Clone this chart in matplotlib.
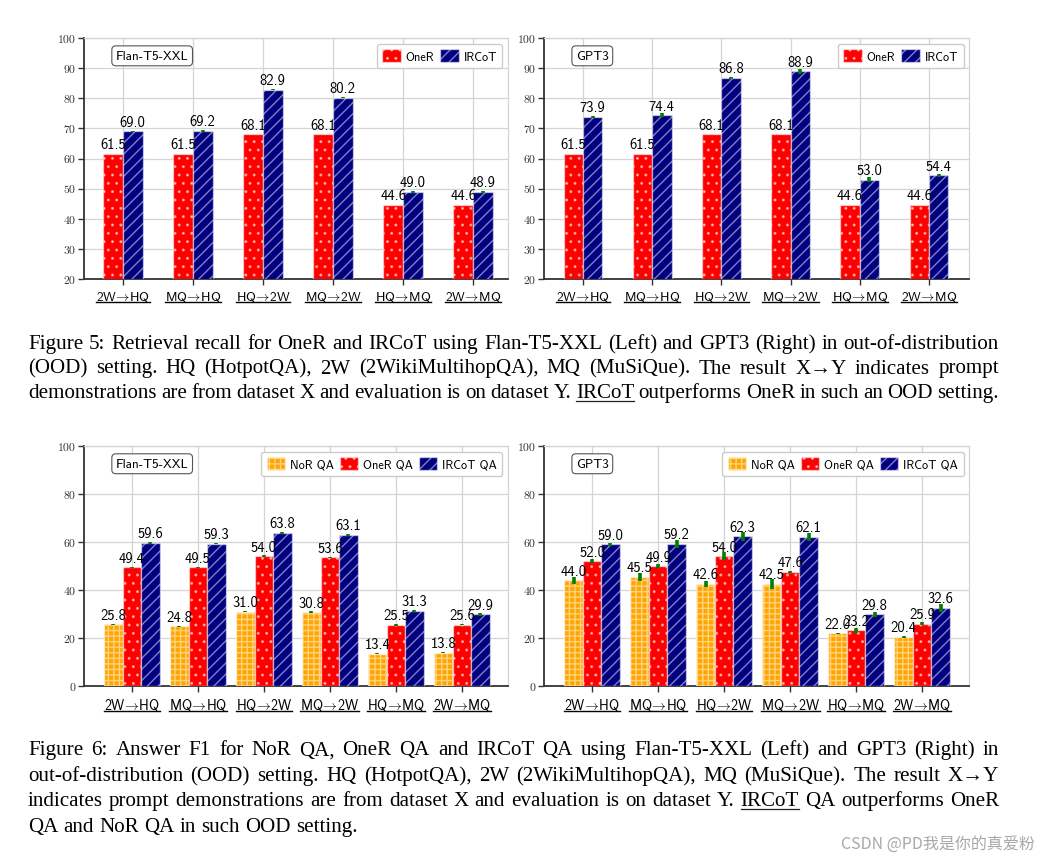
import matplotlib

matplotlib.use("Agg")
import matplotlib.pyplot as plt  # noqa: E402
import numpy as np  # noqa: E402
from matplotlib.lines import Line2D  # noqa: E402
from matplotlib.transforms import IdentityTransform  # noqa: E402

plt.rcParams["mathtext.fontset"] = "cm"
plt.rcParams["axes.unicode_minus"] = False
plt.rcParams["hatch.linewidth"] = 1.0

SANS = ["cmss10", "DejaVu Sans"]
ROMAN = ["cmr10", "DejaVu Serif"]
TIMES = ["Liberation Serif", "DejaVu Serif"]
CJK = ["Noto Sans CJK SC", "DejaVu Sans"]

W, H = 1051, 862

# ---- data -------------------------------------------------------------
PAIRS = [r"2W$\!\rightarrow\!$HQ", r"MQ$\!\rightarrow\!$HQ", r"HQ$\!\rightarrow\!$2W",
         r"MQ$\!\rightarrow\!$2W", r"HQ$\!\rightarrow\!$MQ", r"2W$\!\rightarrow\!$MQ"]

# Figure 5: retrieval recall
recall_oner_flan = [61.5, 61.5, 68.1, 68.1, 44.6, 44.6]
recall_ircot_flan = [69.0, 69.2, 82.9, 80.2, 49.0, 48.9]
recall_ircot_flan_err = [0.2, 0.3, 0.3, 0.2, 0.3, 0.2]

recall_oner_gpt3 = [61.5, 61.5, 68.1, 68.1, 44.6, 44.6]
recall_ircot_gpt3 = [73.9, 74.4, 86.8, 88.9, 53.0, 54.4]
recall_ircot_gpt3_err = [0.3, 0.6, 0.4, 0.8, 0.9, 0.4]

# Figure 6: answer F1
f1_nor_flan = [25.8, 24.8, 31.0, 30.8, 13.4, 13.8]
f1_oner_flan = [49.4, 49.5, 54.0, 53.6, 25.5, 25.6]
f1_ircot_flan = [59.6, 59.3, 63.8, 63.1, 31.3, 29.9]
f1_nor_flan_err = [0.2, 0.4, 0.2, 0.4, 0.2, 0.2]
f1_oner_flan_err = [0.2, 0.2, 0.4, 0.3, 0.3, 0.3]
f1_ircot_flan_err = [0.3, 0.2, 0.4, 0.4, 0.5, 0.6]

f1_nor_gpt3 = [44.0, 45.5, 42.6, 42.5, 22.0, 20.4]
f1_oner_gpt3 = [52.0, 49.9, 54.0, 47.6, 23.2, 25.9]
f1_ircot_gpt3 = [59.0, 59.2, 62.3, 62.1, 29.8, 32.6]
f1_nor_gpt3_err = [1.4, 1.7, 1.25, 2.2, 0.2, 0.5]
f1_oner_gpt3_err = [0.8, 0.9, 1.7, 0.4, 1.1, 0.6]
f1_ircot_gpt3_err = [0.7, 1.7, 2.0, 1.7, 0.9, 1.7]

CAPTION5 = [
    "Figure 5: Retrieval recall for OneR and IRCoT using Flan-T5-XXL (Left) and GPT3 (Right) in out-of-distribution",
    "(OOD) setting. HQ (HotpotQA), 2W (2WikiMultihopQA), MQ (MuSiQue). The result X\u2192Y indicates prompt",
    "demonstrations are from dataset X and evaluation is on dataset Y. IRCoT outperforms OneR in such an OOD setting.",
]
CAPTION6 = [
    "Figure 6:  Answer F1 for NoR QA, OneR QA and IRCoT QA using Flan-T5-XXL (Left) and GPT3 (Right) in",
    "out-of-distribution (OOD) setting. HQ (HotpotQA), 2W (2WikiMultihopQA), MQ (MuSiQue). The result X\u2192Y",
    "indicates prompt demonstrations are from dataset X and evaluation is on dataset Y. IRCoT QA outperforms OneR",
    "QA and NoR QA in such OOD setting.",
]
WATERMARK = "CSDN @PD\u6211\u662f\u4f60\u7684\u771f\u7231\u7c89"

# series styles
STYLE = {
    "NoR": {"color": "#FFA500", "hatch": "+++"},
    "OneR": {"color": "#FF0000", "hatch": ".."},
    "IRCoT": {"color": "#000080", "hatch": "///"},
}
EDGE = (1, 1, 1, 0.5)


def px_axes(fig, left, top, right, bottom):
    return fig.add_axes([left / W, 1 - bottom / H, (right - left) / W, (bottom - top) / H])


def draw_panel(ax, series, title, xlim, ylim, yticks, tick_size):
    x = np.arange(len(PAIRS))
    n = len(series)
    width = 0.28
    for i, (key, label, vals, err) in enumerate(series):
        pos = x + (i - (n - 1) / 2) * width
        st = STYLE[key]
        ax.bar(pos, vals, width, color=st["color"], hatch=st["hatch"],
               edgecolor=EDGE, linewidth=1.0, label=label, zorder=3)
        if err is not None:
            ax.errorbar(pos, vals, yerr=err, fmt="none", ecolor="#008000",
                        elinewidth=2.6, capsize=0, zorder=4)
        for p, v in zip(pos, vals):
            ax.annotate(f"{v:.1f}", (p, v), xytext=(0, 4), textcoords="offset points",
                        ha="center", va="baseline", fontsize=10.5, family=SANS, zorder=6)

    ax.set_xlim(*xlim)
    ax.set_ylim(*ylim)
    ax.set_yticks(yticks)
    ax.set_xticks(x)
    ax.set_xticklabels(PAIRS, family=SANS, fontsize=tick_size)
    for lab in ax.get_yticklabels():
        lab.set_family(ROMAN)
        lab.set_fontsize(8.5)
        lab.set_color("#333333")
    ax.tick_params(axis="y", length=4, width=1, color="#333333", pad=2)
    ax.tick_params(axis="x", length=4.5, width=1, color="#333333", pad=3)
    ax.grid(True, color="#d4d4d4", linewidth=0.9, zorder=0)
    ax.set_axisbelow(True)
    for side in ("left", "bottom"):
        ax.spines[side].set_color("#333333")
        ax.spines[side].set_linewidth(1.3)
    for side in ("top", "right"):
        ax.spines[side].set_color("#d4d4d4")
        ax.spines[side].set_linewidth(0.9)

    ax.text(0.075, 0.926, title, transform=ax.transAxes, ha="left", va="center",
            fontsize=9.5, family=SANS, zorder=7,
            bbox=dict(boxstyle="round,pad=0.3", fc="white", ec="#555555", lw=0.8))
    ax.legend(loc="upper right", ncol=n, prop={"family": SANS, "size": 8.8},
              fancybox=True, framealpha=1, edgecolor="#cccccc",
              handlelength=1.5, handleheight=1.3, columnspacing=0.5,
              handletextpad=0.4, borderaxespad=0.45, borderpad=0.45)


def underline_ticklabels(fig, ax, renderer):
    for lab in ax.get_xticklabels():
        bb = lab.get_window_extent(renderer)
        y = bb.y0 + 1
        fig.add_artist(Line2D([bb.x0, bb.x1], [y, y], transform=IdentityTransform(),
                              color="black", linewidth=1.0))


def text_width(fig, renderer, s, size):
    t = fig.text(0, 0, s, fontsize=size, family=TIMES)
    w = t.get_window_extent(renderer).width
    t.remove()
    return w


def justify(fig, renderer, line, x0, x1, baseline, size, stretch=True, underline_word=None):
    words = [w for w in line.split(" ") if w]
    widths = [text_width(fig, renderer, w, size) for w in words]
    if stretch and len(words) > 1:
        gap = (x1 - x0 - sum(widths)) / (len(words) - 1)
    else:
        gap = text_width(fig, renderer, "a a", size) - 2 * text_width(fig, renderer, "a", size)
    x = x0
    for w, wd in zip(words, widths):
        fig.text(x / W, 1 - baseline / H, w, fontsize=size, family=TIMES,
                 va="baseline", ha="left")
        if underline_word is not None and w == underline_word:
            uy = H - baseline - 3.5
            fig.add_artist(Line2D([x / W, (x + wd) / W], [uy / H, uy / H],
                                  transform=fig.transFigure, color="#222222", linewidth=0.9))
        x += wd + gap


fig = plt.figure(figsize=(W / 100, H / 100), dpi=100)

ax1 = px_axes(fig, 84, 39, 508, 280)
ax2 = px_axes(fig, 544, 39, 969, 280)
ax3 = px_axes(fig, 84, 447, 508, 687)
ax4 = px_axes(fig, 544, 447, 969, 687)

draw_panel(ax1, [("OneR", "OneR", recall_oner_flan, None),
                 ("IRCoT", "IRCoT", recall_ircot_flan, recall_ircot_flan_err)],
           "Flan-T5-XXL", (-0.557, 5.5), (20, 100), range(20, 101, 10), 9.6)
draw_panel(ax2, [("OneR", "OneR", recall_oner_gpt3, None),
                 ("IRCoT", "IRCoT", recall_ircot_gpt3, recall_ircot_gpt3_err)],
           "GPT3", (-0.564, 5.58), (20, 100), range(20, 101, 10), 9.6)
draw_panel(ax3, [("NoR", "NoR QA", f1_nor_flan, f1_nor_flan_err),
                 ("OneR", "OneR QA", f1_oner_flan, f1_oner_flan_err),
                 ("IRCoT", "IRCoT QA", f1_ircot_flan, f1_ircot_flan_err)],
           "Flan-T5-XXL", (-0.727, 5.70), (0, 100), range(0, 101, 20), 10)
draw_panel(ax4, [("NoR", "NoR QA", f1_nor_gpt3, f1_nor_gpt3_err),
                 ("OneR", "OneR QA", f1_oner_gpt3, f1_oner_gpt3_err),
                 ("IRCoT", "IRCoT QA", f1_ircot_gpt3, f1_ircot_gpt3_err)],
           "GPT3", (-0.727, 5.71), (0, 100), range(0, 101, 20), 10)

fig.canvas.draw()
renderer = fig.canvas.get_renderer()
for ax in (ax1, ax2, ax3, ax4):
    underline_ticklabels(fig, ax, renderer)

# caption font size fitted to the first caption line
cap_size = 10 * 962 / text_width(fig, renderer, CAPTION5[0], 10)

for i, (line, base) in enumerate(zip(CAPTION5, [349, 373.5, 398])):
    justify(fig, renderer, line, 28, 999, base, cap_size,
            underline_word="IRCoT" if i == 2 else None)
for i, (line, base) in enumerate(zip(CAPTION6, [755.5, 781, 806.5, 832.5])):
    justify(fig, renderer, line, 28, 999, base, cap_size, stretch=(i < 3),
            underline_word="IRCoT" if i == 2 else None)

fig.text(1035 / W, 1 - 849 / H, WATERMARK, ha="right", va="baseline",
         fontsize=11.5, family=CJK, color="#a8a8a8")

fig.savefig("out.png", dpi=100)
